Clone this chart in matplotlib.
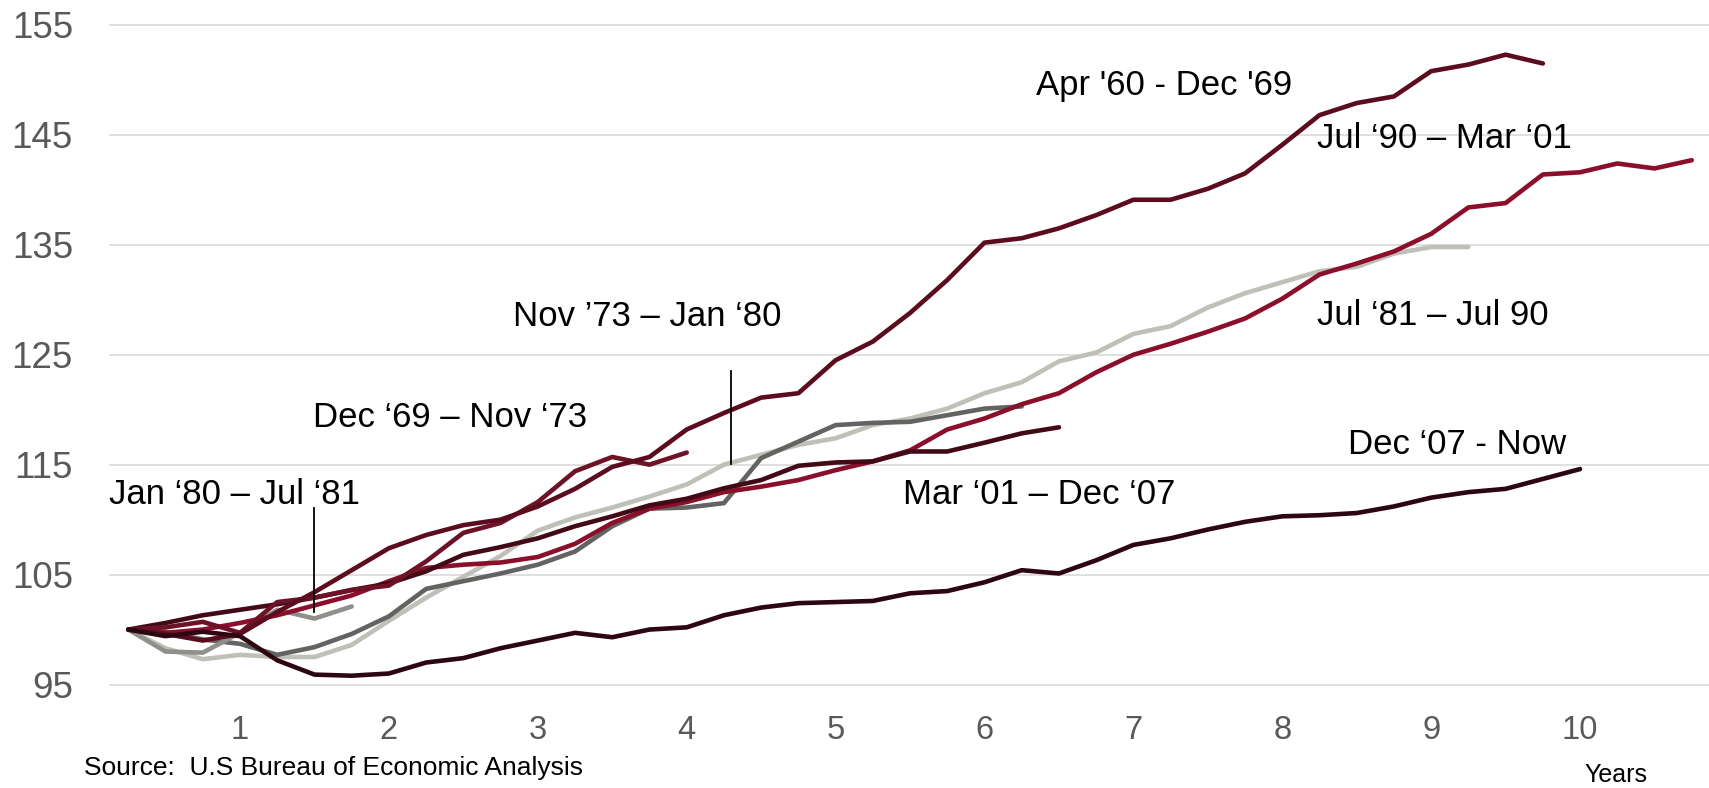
import matplotlib
matplotlib.use('Agg')
import matplotlib.pyplot as plt
import numpy as np

plt.rcParams['font.family'] = ['Liberation Sans', 'DejaVu Sans']

# ---- data (index = 100 at start of each expansion, quarterly) ----
jul81 = [100, 98.3, 97.3, 97.7, 97.5, 97.5, 98.6, 100.8, 102.9, 104.8, 106.7, 109.0,
         110.2, 111.1, 112.1, 113.2, 115.0, 115.9, 116.8, 117.4, 118.6, 119.2, 120.1,
         121.5, 122.5, 124.4, 125.2, 126.9, 127.6, 129.3, 130.6, 131.6, 132.6, 133.0,
         134.2, 134.8, 134.8]
nov73 = [100, 99.8, 99.1, 98.7, 97.7, 98.4, 99.6, 101.2, 103.7, 104.4, 105.1, 105.9,
         107.1, 109.4, 111.0, 111.1, 111.5, 115.6, 117.1, 118.6, 118.8, 118.9, 119.5,
         120.1, 120.3]
jan80 = [100, 98.0, 97.9, 99.7, 101.8, 101.0, 102.1]
jul90 = [100, 99.7, 100.0, 100.6, 101.3, 102.2, 103.1, 104.4, 105.6, 105.9, 106.1,
         106.6, 107.8, 109.7, 111.0, 111.6, 112.5, 113.0, 113.6, 114.5, 115.3, 116.3,
         118.2, 119.2, 120.5, 121.5, 123.4, 125.0, 126.0, 127.1, 128.3, 130.1, 132.3,
         133.3, 134.4, 136.0, 138.4, 138.8, 141.4, 141.6, 142.4, 141.95, 142.7]
mar01 = [100, 100.6, 101.3, 101.8, 102.3, 102.9, 103.6, 104.2, 105.3, 106.8, 107.5,
         108.3, 109.4, 110.3, 111.3, 111.9, 112.85, 113.6, 114.9, 115.2, 115.3, 116.2,
         116.2, 117.0, 117.85, 118.4]
dec69 = [100, 100.2, 100.7, 99.7, 102.5, 102.9, 103.6, 104.0, 106.2, 108.8, 109.7,
         111.6, 114.4, 115.7, 115.0, 116.1]
apr60 = [100, 99.6, 99.0, 99.6, 101.6, 103.4, 105.4, 107.4, 108.6, 109.5, 110.0,
         111.2, 112.8, 114.8, 115.7, 118.2, 119.7, 121.1, 121.5, 124.5, 126.2, 128.8,
         131.8, 135.2, 135.6, 136.5, 137.7, 139.1, 139.1, 140.1, 141.5, 144.1, 146.8,
         147.9, 148.5, 150.8, 151.4, 152.3, 151.5]
dec07 = [100, 99.4, 99.8, 99.4, 97.2, 95.9, 95.8, 96.0, 97.0, 97.4, 98.3, 99.0, 99.7,
         99.3, 100.0, 100.2, 101.3, 102.0, 102.4, 102.5, 102.6, 103.3, 103.5, 104.3,
         105.4, 105.1, 106.3, 107.7, 108.3, 109.1, 109.8, 110.3, 110.4, 110.6, 111.2,
         112.0, 112.5, 112.8, 113.7, 114.6]

series = [
    (jul81, '#BFC0B7'),
    (nov73, '#636461'),
    (jan80, '#8E908C'),
    (jul90, '#8B0E2B'),
    (mar01, '#420A17'),
    (dec69, '#6D1227'),
    (apr60, '#5C0C1F'),
    (dec07, '#2C0610'),
]

labels = [
    ("Apr '60 - Dec '69", 6.345, 148.63),
    ("Jul \u201890 \u2013 Mar \u201801", 8.23, 143.78),
    ("Jul \u201881 \u2013 Jul 90", 8.23, 127.7),
    ("Nov \u201973 \u2013 Jan \u201880", 2.836, 127.6),
    ("Dec \u201869 \u2013 Nov \u201873", 1.492, 118.46),
    ("Jan \u201880 \u2013 Jul \u201881", 0.122, 111.39),
    ("Mar \u201801 \u2013 Dec \u201807", 5.455, 111.42),
    ("Dec \u201807 - Now", 8.441, 115.97),
]
leaders = [(1.5, 101.6, 111.05), (4.30, 115.1, 123.5)]

yticks = [95, 105, 115, 125, 135, 145, 155]
xticks = [1, 2, 3, 4, 5, 6, 7, 8, 9, 10]

W, H = 1709, 788
fig = plt.figure(figsize=(W / 100, H / 100), dpi=100)
ax = fig.add_axes([109 / W, (H - 690) / H, 1600 / W, 670.5 / H])

for vals, color in series:
    x = np.arange(1, len(vals) + 1) * 0.25
    ax.plot(x, vals, color=color, lw=3.3, solid_joinstyle='round',
            solid_capstyle='round', zorder=3)

for txt, tx, ty in labels:
    ax.text(tx, ty, txt, fontsize=25, color='black', ha='left', va='baseline', zorder=5)

for lx, y0, y1 in leaders:
    ax.plot([lx, lx], [y0, y1], color='black', lw=1.3, zorder=4)

ax.set_xlim(0.120, 10.866)
ax.set_ylim(94.5, 155.5)
ax.set_yticks(yticks)
ax.set_yticklabels([str(v) for v in yticks])
ax.set_xticks(xticks)
ax.set_xticklabels([str(v) for v in xticks])
ax.yaxis.grid(True, color='#D9D9D9', lw=1.2, zorder=0)
ax.set_axisbelow(True)
for s in ax.spines.values():
    s.set_visible(False)
ax.tick_params(axis='y', length=0, pad=26, labelsize=26.5, labelcolor='#595959')
ax.tick_params(axis='x', length=0, pad=18, labelsize=23.5, labelcolor='#595959')

fig.text(83.5 / W, 1 - 775 / H, 'Source:  U.S Bureau of Economic Analysis',
         fontsize=19, color='black', ha='left', va='baseline')
fig.text(1584 / W, 1 - 782 / H, 'Years', fontsize=18, color='black',
         ha='left', va='baseline')

fig.savefig('out.png', dpi=100)
